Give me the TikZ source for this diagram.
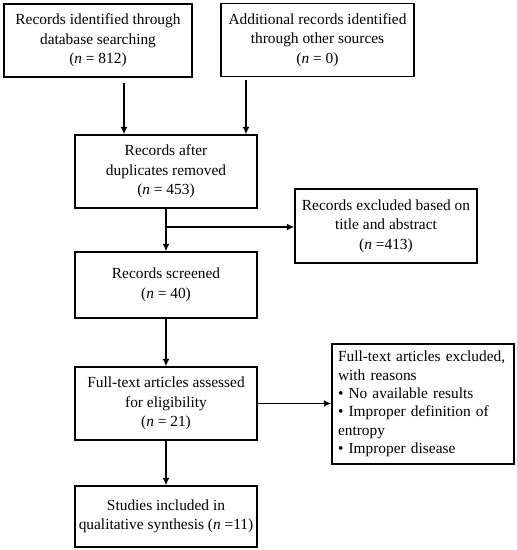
\documentclass[tikz,border=0pt]{standalone}
\usepackage{fontspec}
\setmainfont{Liberation Serif}
\usetikzlibrary{arrows.meta}
\begin{document}
\begin{tikzpicture}[x=1pt,y=-1pt,
  box/.style={draw,line width=1.4pt,inner sep=0pt,align=center,
    font=\fontsize{15.4}{19.5}\selectfont},
  arr/.style={line width=1.9pt,-{Latex[length=7.5pt,width=7pt]}}]
\useasboundingbox (0,0) rectangle (517,550);
\node[box,minimum width=188pt,minimum height=73pt] (b1) at (98,40.5)
  {Records identified through\\database searching\\(\textit{n} = 812)};
\node[box,minimum width=193pt,minimum height=73pt] (b2) at (317.5,40)
  {Additional records identified\\through other sources\\(\textit{n} = 0)};
\node[box,minimum width=182pt,minimum height=73pt] (b3) at (166,171.5)
  {Records after\\duplicates removed\\(\textit{n} = 453)};
\node[box,minimum width=182pt,minimum height=74pt] (b4) at (386,226)
  {Records excluded based on\\title and abstract\\(\textit{n} =413)};
\node[box,minimum width=182pt,minimum height=66pt] (b5) at (166,285)
  {Records screened\\(\textit{n} = 40)};
\node[box,minimum width=182pt,minimum height=73pt] (b6) at (166,403.5)
  {Full-text articles assessed\\for eligibility\\(\textit{n} = 21)};
\node[box,minimum width=182pt,minimum height=120pt,align=left,
  text width=170pt,font=\fontsize{15.4}{18.3}\selectfont] (b7) at (423,404)
  {Full-text articles excluded,\\with reasons\\• No available results\\• Improper definition of\\entropy\\• Improper disease};
\node[box,minimum width=182pt,minimum height=61pt] (b8) at (166,516.5)
  {Studies included in\\qualitative synthesis (\textit{n} =11)};
\coordinate (j) at (166,227);
\draw[arr,shorten <=5pt] (b1.south -| 124,0) -- (b3.north -| 124,0);
\draw[arr,shorten <=3pt] (b2.south -| 246,0) -- (b3.north -| 246,0);
\draw[arr] (b3.south) -- (b5.north);
\draw[arr] (j) -- (j -| b4.west);
\draw[arr] (b5.south) -- (b6.north);
\draw[arr] (b6.east) -- (b6.east -| b7.west);
\draw[arr] (b6.south) -- (b8.north);
\end{tikzpicture}
\end{document}
